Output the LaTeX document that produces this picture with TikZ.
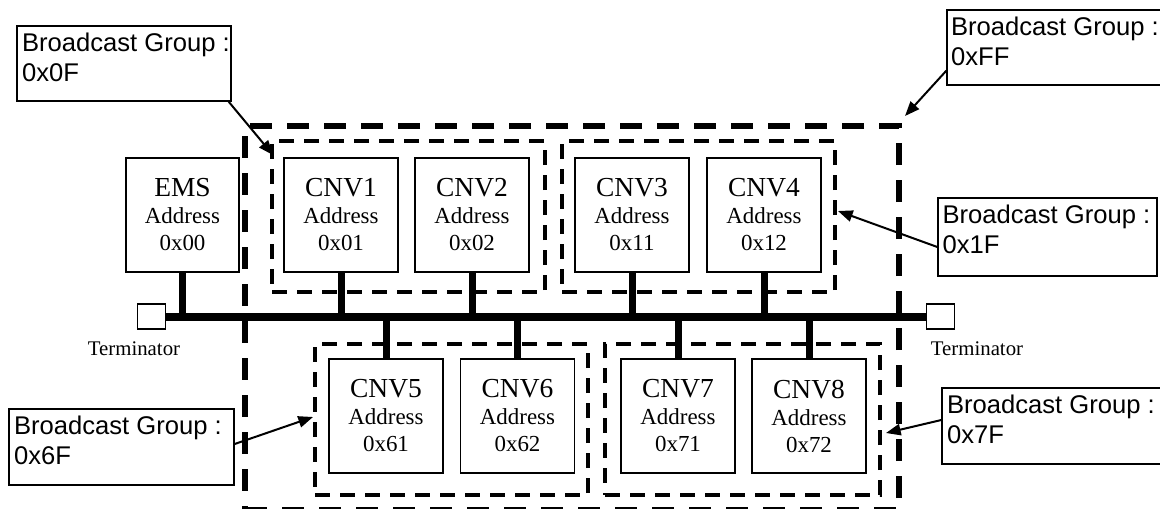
\documentclass[tikz,border=0pt]{standalone}
\usepackage{fontspec}
\setmainfont{Liberation Serif}
\newfontfamily\arialf{Liberation Sans}
\usetikzlibrary{arrows.meta,calc}
\tikzset{
  dev/.style={draw, line width=1pt, minimum width=85.5pt, minimum height=85.5pt, inner sep=0pt, align=center, font=\fontsize{17.2}{20.25}\selectfont},
  grpin/.style={draw, line width=3pt, dash pattern=on 11.25pt off 7.5pt, minimum width=204.75pt, minimum height=113.25pt, inner sep=0pt},
  grpout/.style={draw, line width=4.5pt, dash pattern=on 16.5pt off 11.25pt, inner sep=0pt},
  lblbox/.style={draw, line width=1pt, inner sep=0pt},
  lbltxt/.style={inner sep=0pt, anchor=north west, align=left, font=\arialf\fontsize{19.2}{22.5}\selectfont},
  term/.style={draw, line width=1pt, minimum width=21pt, minimum height=18.75pt, inner sep=0pt},
  termtxt/.style={inner sep=0pt, anchor=base, font=\fontsize{15.6}{18}\selectfont},
  bus/.style={line width=6pt},
  stub/.style={line width=5.25pt},
  callout/.style={line width=1.5pt, -{Triangle[length=11pt,width=8.5pt]}}
}
\newcommand{\dv}[2]{{\fontsize{20.6}{20.25}\selectfont #1}\\Address\\#2}
\begin{document}
\begin{tikzpicture}[x=0.75pt,y=-0.75pt]
\useasboundingbox (0,0) rectangle (1160,508);
\clip (0,0) rectangle (1160,508);
\fill[white] (0,0) rectangle (1160,508);

% groups
\node[grpout, minimum width=490.5pt, minimum height=288pt] (gFF) at (572,318) {};
\node[grpin] (g0F) at (408.5,216.5) {};
\node[grpin] (g1F) at (698.5,216.5) {};
\node[grpin] (g6F) at (451.5,419.5) {};
\node[grpin, minimum width=206.25pt] (g7F) at (742.5,419.5) {};

% devices
\node[dev, minimum width=84.75pt] (ems) at (182.5,215) {{\fontsize{20.6}{20.25}\selectfont EMS}\\Address\\0x00};
\node[dev] (c1) at (341,215) {\dv{CNV1}{0x01}};
\node[dev] (c2) at (472,215) {\dv{CNV2}{0x02}};
\node[dev] (c3) at (632,215) {\dv{CNV3}{0x11}};
\node[dev] (c4) at (764,215) {\dv{CNV4}{0x12}};
\node[dev] (c5) at (386,416) {\dv{CNV5}{0x61}};
\node[dev] (c6) at (517.5,416) {\dv{CNV6}{0x62}};
\node[dev] (c7) at (678,416) {\dv{CNV7}{0x71}};
\node[dev] (c8) at (809,416) {\dv{CNV8}{0x72}};

% terminators and bus
\node[term] (tL) at (151.5,316.5) {};
\node[term] (tR) at (940.5,316.5) {};
\draw[bus] (tL.east) -- (tR.west);
\foreach \n in {ems,c1,c2,c3,c4}{
  \draw[stub] (\n.south) -- (\n.south |- tL.center);
}
\foreach \n in {c5,c6,c7,c8}{
  \draw[stub] (\n.north) -- (\n.north |- tL.center);
}
\node[termtxt] (ttL) at ($(tL.center)+(-17.5,38.5)$) {Terminator};
\node[termtxt] (ttR) at ($(tR.center)+(36.5,38.5)$) {Terminator};

% labels
\node[lblbox, minimum width=160.5pt, minimum height=56.25pt] (l0F) at (124,63.5) {};
\node[lblbox, minimum width=171pt, minimum height=56.25pt] (lFF) at (1061,47.5) {};
\node[lblbox, minimum width=164.25pt, minimum height=58.5pt] (l1F) at (1047.5,237) {};
\node[lblbox, minimum width=174.75pt, minimum height=57pt] (l7F) at (1058.5,426) {};
\node[lblbox, minimum width=168.75pt, minimum height=57pt] (l6F) at (121.5,447) {};

\node[lbltxt] (x0F) at ($(l0F.north west)+(5.5,7.5)$) {Broadcast Group :\\0x0F};
\node[lbltxt] (xFF) at ($(lFF.north west)+(4.5,7.5)$) {Broadcast Group :\\0xFF};
\node[lbltxt] (x1F) at ($(l1F.north west)+(5,7.5)$) {Broadcast Group :\\0x1F};
\node[lbltxt] (x7F) at ($(l7F.north west)+(5.5,7.5)$) {Broadcast Group :\\0x7F};
\node[lbltxt] (x6F) at ($(l6F.north west)+(5.5,7.5)$) {Broadcast Group :\\0x6F};

% callouts
\draw[callout] ($(l0F.south east)+(-3,0)$) -- ($(g0F.north west)+(3,16)$);
\draw[callout] ($(lFF.south west)+(0,-15)$) -- ($(gFF.north east)+(3,-7)$);
\draw[callout] ($(l1F.west)+(0,10)$) -- ($(g1F.east)+(1,-5.5)$);
\draw[callout] ($(l7F.west)+(0,-6)$) -- ($(g7F.east)+(4,13.5)$);
\draw[callout] ($(l6F.east)+(0,-3)$) -- ($(g6F.west)+(0,-2.5)$);
\end{tikzpicture}
\end{document}
